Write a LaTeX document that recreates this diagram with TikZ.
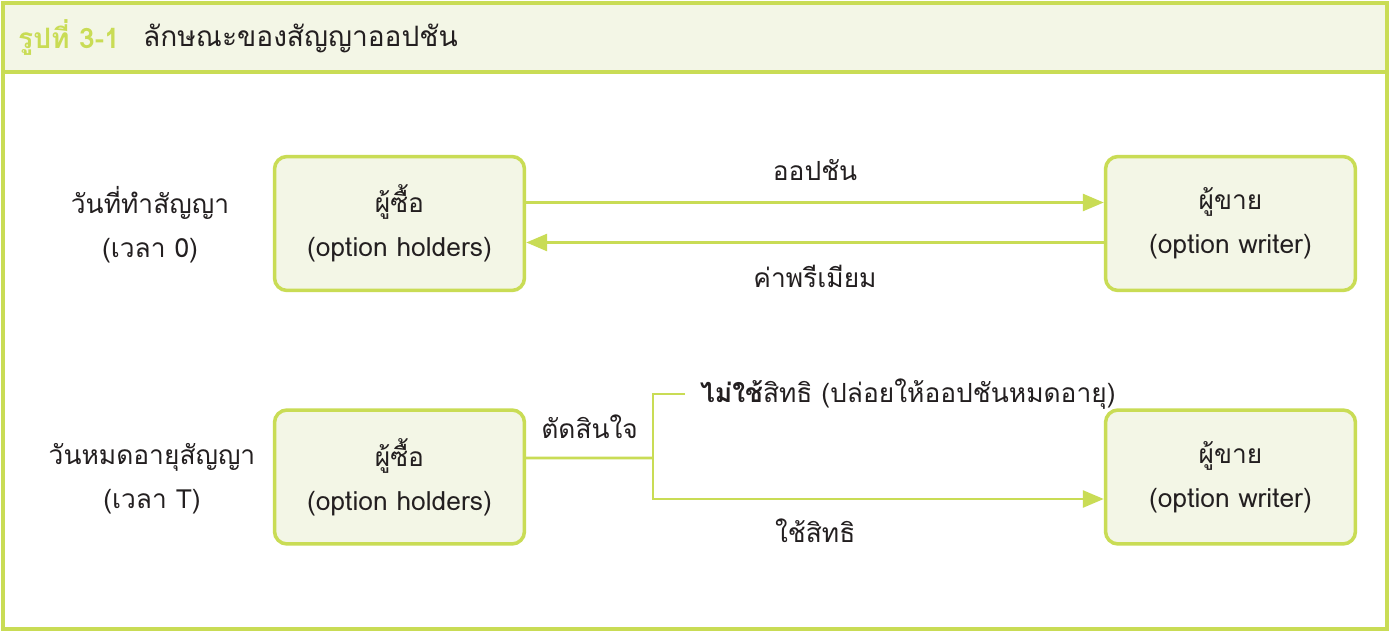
\documentclass[tikz,border=0pt]{standalone}
\usepackage{fontspec}
\setmainfont[Script=Thai]{Loma}
\usetikzlibrary{arrows.meta}
\definecolor{optgreen}{HTML}{C9DC55}
\definecolor{optfill}{HTML}{F3F6E6}
\definecolor{opttext}{HTML}{231F20}

\begin{document}
\begin{tikzpicture}[x=0.02cm, y=-0.02cm, font=\fontsize{15}{25}\selectfont, text=opttext,
  party/.style={draw=optgreen, fill=optfill, line width=2pt, rounded corners=0.25cm,
    minimum width=5cm, minimum height=2.68cm, align=center},
  period/.style={align=center},
  choice/.style={midway, align=center},
  transfer/.style={draw=optgreen, line width=1.6pt, -{Triangle[length=0.42cm, width=0.34cm]}},
  branch/.style={draw=optgreen, line width=1.6pt},
]
\useasboundingbox (0,0) rectangle (1390,632);
\draw[optgreen, line width=1.8pt, fill=white] (3,3) rectangle (1387,629);
\draw[optgreen, line width=1.8pt, fill=optfill] (3,3) rectangle (1387,72);

\node[anchor=west, text=optgreen, font=\fontsize{16}{18}\selectfont\bfseries] (fignum) at (12,38) {รูปที่ 3-1};
\node[anchor=west, font=\fontsize{16}{18}\selectfont] (figtitle) at (137,38) {ลักษณะของสัญญาออปชัน};

\node[period] (start) at (150,225) {วันที่ทำสัญญา\\(เวลา 0)};
\node[period] (expiry) at (152,479) {วันหมดอายุสัญญา\\(เวลา T)};

\node[party] (buyer0) at (399.5,223.5) {ผู้ซื้อ\\(option holders)};
\node[party] (writer0) at (1230.5,223.5) {ผู้ขาย\\(option writer)};
\node[party] (buyerT) at (399.5,477) {ผู้ซื้อ\\(option holders)};
\node[party] (writerT) at (1230.5,477) {ผู้ขาย\\(option writer)};

\draw[transfer] ([yshift=0.42cm]buyer0.east) -- node[choice, above=0.3cm] {ออปชัน} ([yshift=0.42cm]writer0.west);
\draw[transfer] ([yshift=-0.38cm]writer0.west) -- node[choice, below=0.3cm] {ค่าพรีเมียม} ([yshift=-0.38cm]buyer0.east);

\coordinate (fork) at (653,458);
\node[anchor=west] (lapse) at (694,394) {\textbf{ไม่ใช้}สิทธิ (ปล่อยให้ออปชันหมดอายุ)};
\draw[branch] ([yshift=0.38cm]buyerT.east) -- node[choice, above=0.25cm] {ตัดสินใจ} (fork);
\draw[branch] ([xshift=-0.18cm]lapse.west) -| (fork);
\draw[transfer] (fork) |- node[pos=0.68, below=0.25cm] {ใช้สิทธิ} ([yshift=-0.44cm]writerT.west);
\end{tikzpicture}
\end{document}
